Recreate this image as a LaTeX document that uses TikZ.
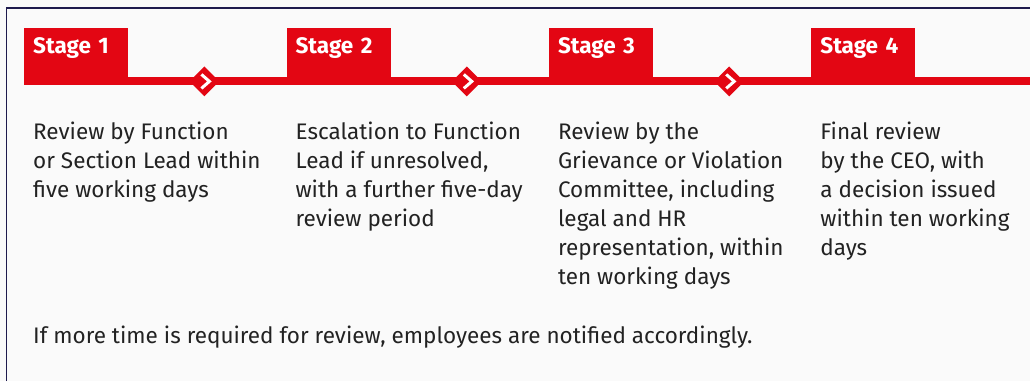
\documentclass[tikz,border=0pt]{standalone}
\usepackage{fontspec}
\setmainfont{Fira Sans}
\usetikzlibrary{positioning,shapes.geometric}
\definecolor{stagered}{RGB}{227,6,19}
\definecolor{framenavy}{RGB}{30,26,77}
\definecolor{bodygray}{RGB}{34,34,34}
\definecolor{paper}{RGB}{250,250,250}

\begin{document}
\begin{tikzpicture}[
    x=1pt, y=-1pt,
    node distance=158pt,
    tab/.style={fill=stagered, text=white, font=\fontsize{22.5}{26}\selectfont\bfseries,
      inner xsep=9pt, inner ysep=0pt, text width=86pt, align=left,
      text height=25pt, text depth=32pt},
    hop/.style={diamond, fill=stagered, minimum size=30pt, inner sep=0pt},
    chevron/.style={white, line width=3pt},
    desc/.style={text=bodygray, font=\fontsize{22.5}{29}\selectfont, align=left,
      inner sep=0pt, anchor=north west, execute at begin node=\strut},
  ]
    \fill[paper] (0,0) rectangle (1030,381);
    \useasboundingbox (0,0) rectangle (1030,381);
    \draw[framenavy, line width=1.5pt] (6.5,381) -- (6.5,8) -- (1030,8);

    % stage tabs and the red rail
    \node[tab, anchor=north west] (stage1) at (24,28) {Stage 1};
    \node[tab, right=of stage1] (stage2) {Stage 2};
    \node[tab, right=of stage2] (stage3) {Stage 3};
    \node[tab, right=of stage3] (stage4) {Stage 4};
    \coordinate (railend) at (1030,77);
    \fill[stagered] (stage1.south west) rectangle (railend);

    % arrows between stages
    \node[hop] (hop1) at ([xshift=76pt, yshift=4pt]stage1.south east) {};
    \node[hop] (hop2) at ([xshift=76pt, yshift=4pt]stage2.south east) {};
    \node[hop] (hop3) at ([xshift=76pt, yshift=4pt]stage3.south east) {};
    \foreach \h in {hop1,hop2,hop3}
      \draw[chevron] ([xshift=-3pt, yshift=7pt]\h.center) -- ([xshift=5pt]\h.center)
        -- ([xshift=-3pt, yshift=-7pt]\h.center);

    % descriptions
    \node[desc] (desc1) at ([xshift=9pt, yshift=-36pt]stage1.south west)
      {Review by Function\\or Section Lead within\\five working days};
    \node[desc] (desc2) at ([xshift=9pt, yshift=-36pt]stage2.south west)
      {Escalation to Function\\Lead if unresolved,\\with a further five-day\\review period};
    \node[desc] (desc3) at ([xshift=9pt, yshift=-36pt]stage3.south west)
      {Review by the\\Grievance or Violation\\Committee, including\\legal and HR\\representation, within\\ten working days};
    \node[desc] (desc4) at ([xshift=9pt, yshift=-36pt]stage4.south west)
      {Final review\\by the CEO, with\\a decision issued\\within ten working\\days};

    \node[text=bodygray, font=\fontsize{22.5}{29}\selectfont, anchor=base west, inner sep=0pt]
      (note) at (33,343) {If more time is required for review, employees are notified accordingly.};
  \end{tikzpicture}
\end{document}
